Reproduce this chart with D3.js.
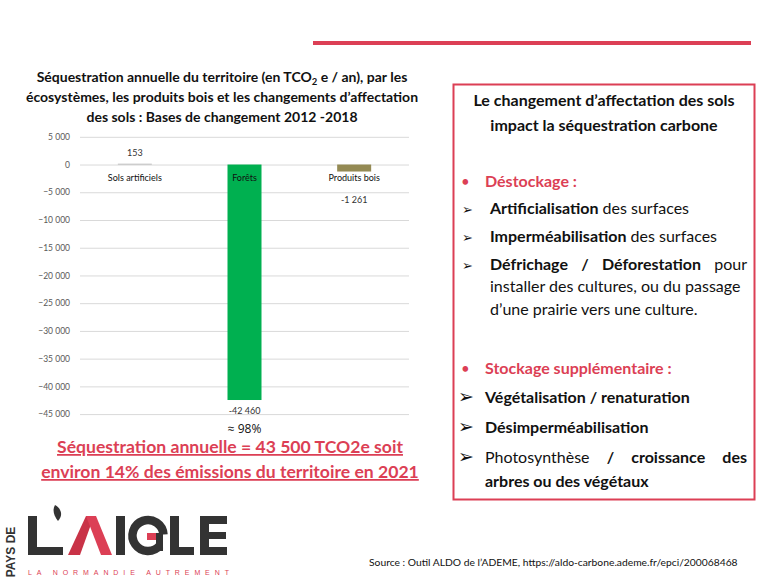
<!DOCTYPE html>
<html><head><meta charset="utf-8">
<script src="https://cdn.jsdelivr.net/npm/d3@7"></script>
<style>
html,body{margin:0;padding:0;background:#fff;}
svg{display:block;font-family:"Lato","Open Sans",sans-serif;}
</style></head>
<body>
<svg id="c" width="772" height="579"></svg>
<script>
// ---- data ----
const categories = ["Sols artificiels", "Forêts", "Produits bois"];
const values = [153, -42460, -1261];
const valueLabels = ["153", "-42 460", "-1 261"];
const barColors = ["#BFBFBF", "#00B050", "#948A54"];
const yTicks = [5000, 0, -5000, -10000, -15000, -20000, -25000, -30000, -35000, -40000, -45000];
const shareLabel = "≈ 98%";

const svg = d3.select("#c");
const RED = "#DC3F55";
const fmt = v => d3.format(",")(v).replace(/,/g, " ");

// top red rule
svg.append("rect").attr("x", 313).attr("y", 41).attr("width", 438).attr("height", 4).attr("fill", RED);

// chart title
const title = svg.append("g").attr("font-weight", "bold").attr("font-size", 14).attr("fill", "#111").attr("text-anchor", "middle");
const t1 = title.append("text").attr("x", 222).attr("y", 82);
t1.append("tspan").text("Séquestration annuelle du territoire (en TCO");
t1.append("tspan").attr("font-size", 9.5).attr("dy", 3).text("2");
t1.append("tspan").attr("dy", -3).text(" e / an), par les");
title.append("text").attr("x", 222).attr("y", 102).text("écosystèmes, les produits bois et les changements d’affectation");
title.append("text").attr("x", 222).attr("y", 122).text("des sols : Bases de changement 2012 -2018");

// scales
const x = d3.scaleBand().domain(categories).range([80, 409]).paddingInner(0.69).paddingOuter(0.345);
const y = d3.scaleLinear().domain([5000, -45000]).range([136.8, 414.1]);

// grid + axis
const axis = d3.axisLeft(y).tickValues(yTicks).tickSize(-329).tickFormat(fmt).tickPadding(10);
const ag = svg.append("g").attr("transform", "translate(80,0)").call(axis);
ag.select(".domain").remove();
ag.selectAll(".tick line").attr("stroke", "#D9D9D9").attr("stroke-width", 1);
ag.selectAll(".tick text").attr("fill", "#595959").attr("font-size", 8.5).attr("font-family", "Lato, sans-serif");

// bars
svg.append("g").selectAll("rect").data(values).join("rect")
  .attr("x", (d, i) => x(categories[i]))
  .attr("width", x.bandwidth())
  .attr("y", d => Math.min(y(d), y(0)))
  .attr("height", d => Math.max(1, Math.abs(y(d) - y(0))))
  .attr("fill", (d, i) => barColors[i]);

// category labels
svg.append("g").selectAll("text").data(categories).join("text")
  .attr("x", d => x(d) + x.bandwidth() / 2).attr("y", y(0) + 16)
  .attr("text-anchor", "middle").attr("font-size", 9).attr("fill", "#111").text(d => d);

// value labels
svg.append("g").selectAll("text").data(values).join("text")
  .attr("x", (d, i) => x(categories[i]) + x.bandwidth() / 2)
  .attr("y", d => d >= 0 ? y(d) - 8 : Math.max(y(d) + 14, y(0) + 38))
  .attr("text-anchor", "middle").attr("font-size", 9).attr("fill", "#333")
  .text((d, i) => valueLabels[i]);

svg.append("text").attr("x", x("Forêts") + x.bandwidth() / 2).attr("y", y(values[1]) + 33)
  .attr("text-anchor", "middle").attr("font-size", 12).attr("fill", "#111").attr("font-family", "Open Sans, sans-serif").text(shareLabel);

// red conclusion
const rc = svg.append("g").attr("fill", RED).attr("font-weight", "bold").attr("font-size", 17.6).attr("text-anchor", "middle").attr("text-decoration", "underline");
rc.append("text").attr("x", 230).attr("y", 453).text("Séquestration annuelle = 43 500 TCO2e soit");
rc.append("text").attr("x", 230).attr("y", 478).text("environ 14% des émissions du territoire en 2021");

// right box
svg.append("rect").attr("x", 453.5).attr("y", 84.5).attr("width", 301).attr("height", 415).attr("fill", "none").attr("stroke", RED).attr("stroke-width", 2);
const bx = svg.append("g").attr("fill", "#111");
bx.append("text").attr("x", 604).attr("y", 106).attr("text-anchor", "middle").attr("font-weight", "bold").attr("font-size", 16).text("Le changement d’affectation des sols");
bx.append("text").attr("x", 604).attr("y", 131).attr("text-anchor", "middle").attr("font-weight", "bold").attr("font-size", 16).text("impact la séquestration carbone");

const FS = 16;
function bullet(yy, label) {
  bx.append("text").attr("x", 461).attr("y", yy).attr("fill", RED).attr("font-size", 15).text("•");
  bx.append("text").attr("x", 485).attr("y", yy).attr("fill", RED).attr("font-weight", "bold").attr("font-size", FS).text(label);
}
function arrow(yy, big) {
  bx.append("text").attr("x", big ? 458 : 462).attr("y", yy).attr("font-family", "DejaVu Sans")
    .attr("font-size", big ? 19 : 13).attr("fill", "#111").text("➢");
}
function line(xx, yy, parts) {
  const t = bx.append("text").attr("x", xx).attr("y", yy).attr("font-size", FS);
  parts.forEach(p => t.append("tspan").attr("font-weight", p[1] ? "bold" : "normal").text(p[0]));
}
function justify(x0, x1, yy, words) {
  const els = words.map(w => bx.append("text").attr("y", yy).attr("font-size", FS).attr("font-weight", w[1] ? "bold" : "normal").text(w[0]));
  const ws = els.map(e => e.node().getComputedTextLength());
  const gap = (x1 - x0 - d3.sum(ws)) / (els.length - 1);
  let cx = x0;
  els.forEach((e, i) => { e.attr("x", cx); cx += ws[i] + gap; });
}

bullet(187, "Déstockage :");
arrow(214, false); line(490, 214, [["Artificialisation", 1], [" des surfaces", 0]]);
arrow(242, false); line(490, 242, [["Imperméabilisation", 1], [" des surfaces", 0]]);
arrow(270, false); justify(490, 747, 270, [["Défrichage", 1], ["/", 1], ["Déforestation", 1], ["pour", 0]]);
line(490, 292, [["installer des cultures, ou du passage", 0]]);
line(490, 315, [["d’une prairie vers une culture.", 0]]);

bullet(374, "Stockage supplémentaire :");
arrow(403, true); line(485, 403, [["Végétalisation / renaturation", 1]]);
arrow(433, true); line(485, 433, [["Désimperméabilisation", 1]]);
arrow(463, true); justify(485, 747, 463, [["Photosynthèse", 0], ["/", 1], ["croissance", 1], ["des", 1]]);
line(485, 487, [["arbres ou des végétaux", 1]]);

// source
svg.append("text").attr("x", 369).attr("y", 566).attr("font-size", 10.3).attr("fill", "#111")
  .text("Source : Outil ALDO de l’ADEME, https://aldo-carbone.ademe.fr/epci/200068468");

// logo
const lg = svg.append("g");
const DARK = "#333333";
lg.append("text").attr("transform", "translate(15,552) rotate(-90)").attr("text-anchor", "middle")
  .attr("font-weight", "bold").attr("font-size", 12).attr("fill", DARK).attr("font-family", "Liberation Sans").text("PAYS DE");
// L
lg.append("path").attr("fill", DARK).attr("d", "M28,516 h9 v31 h26 v8 h-35 z");
// apostrophe
lg.append("path").attr("fill", DARK).attr("d", "M55,505 C62,509 63,516 58,521 C54,516 52,510 55,505 z");
// A (lambda)
lg.append("path").attr("fill", "#C93347").attr("d", "M68,555 L86,516 L94,516 L80,555 z");
lg.append("path").attr("fill", RED).attr("d", "M86,516 L96,516 L112,555 L101,555 z");
// I
lg.append("rect").attr("x", 116).attr("y", 516).attr("width", 9).attr("height", 39).attr("fill", DARK);
// G
lg.append("path").attr("fill", "none").attr("stroke", DARK).attr("stroke-width", 8.5)
  .attr("d", d3.arc()({innerRadius: 15.5, outerRadius: 15.5, startAngle: Math.PI * 0.22, endAngle: Math.PI * 1.98}))
  .attr("transform", "translate(148,535.5) rotate(90)");
lg.append("rect").attr("x", 147).attr("y", 533).attr("width", 16).attr("height", 7).attr("fill", RED);
lg.append("rect").attr("x", 156).attr("y", 533).attr("width", 7).attr("height", 18).attr("fill", DARK);
// L
lg.append("path").attr("fill", DARK).attr("d", "M170,516 h9 v31 h15 v8 h-24 z");
// E
lg.append("path").attr("fill", DARK).attr("d", "M200,516 h27 v8 h-18 v8 h17 v7 h-17 v8 h18 v8 h-27 z");
lg.append("text").attr("x", 28).attr("y", 575).attr("font-size", 7).attr("fill", RED).attr("letter-spacing", 4.9)
  .attr("font-family", "Liberation Sans").text("LA NORMANDIE AUTREMENT");
</script>
</body></html>
